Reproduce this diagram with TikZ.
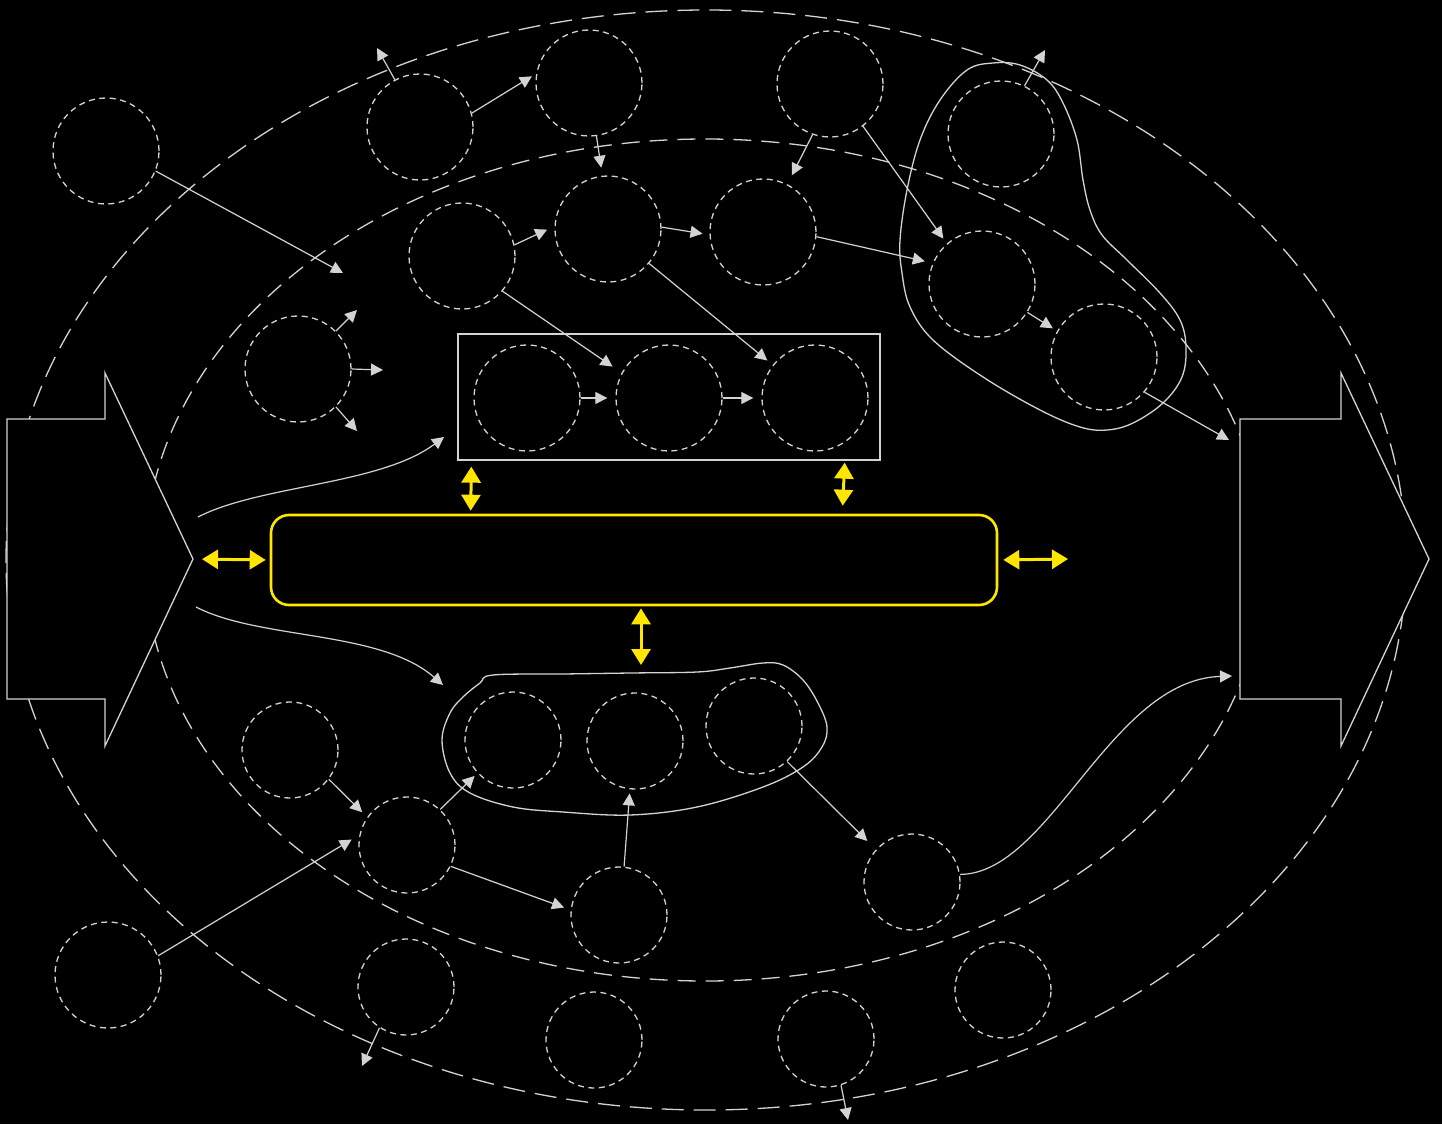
\documentclass[tikz,border=0pt]{standalone}
\usetikzlibrary{arrows.meta}
\definecolor{ink}{RGB}{211,211,211}
\definecolor{hl}{RGB}{255,230,0}
\begin{document}
\begin{tikzpicture}[x=1pt,y=-1pt,
  orbit/.style={circle,draw=ink,line width=1.3pt,dash pattern=on 6pt off 4.5pt,minimum size=106pt,inner sep=0pt},
  orbit s/.style={orbit,minimum size=96pt},
  link/.style={draw=ink,line width=1.2pt,-{Triangle[length=12pt,width=12pt]}},
  hlink/.style={draw=hl,line width=3pt,{Triangle[length=16pt,width=19pt]}-{Triangle[length=16pt,width=19pt]}},
  hull/.style={draw=ink,line width=1.3pt},
  bigarrow/.style={draw=ink,fill=black,line width=1.3pt,line join=miter},
]
% canvas
\fill[black] (0,0) rectangle (1442,1124);
\useasboundingbox (0,0) rectangle (1442,1124);

% two nested dashed rings
\draw[ink,line width=1.3pt,dash pattern=on 22pt off 10pt] (706,560) ellipse [x radius=700pt, y radius=550pt];
\draw[ink,line width=1.3pt,dash pattern=on 18pt off 10pt] (705,560) ellipse [x radius=560pt, y radius=421pt];

% big input / output arrows
\draw[bigarrow] (7,419) -- (105,419) -- (105,373) -- (193,559) -- (105,746) -- (105,699) -- (7,699) -- cycle;
\draw[bigarrow] (1240,419) -- (1341,419) -- (1341,373) -- (1429,559) -- (1341,746) -- (1341,699) -- (1240,699) -- cycle;
\coordinate (srcTip) at (193,559);
\coordinate (srcUp) at (198,517);
\coordinate (srcDown) at (196,607);

% dashed circles
\node[orbit] (c1) at (106,151) {};
\node[orbit] (c2) at (420,127) {};
\node[orbit] (c3) at (589,83) {};
\node[orbit] (c4) at (830,84) {};
\node[orbit] (c5) at (1001,134) {};
\node[orbit] (c6) at (462,256) {};
\node[orbit] (c7) at (608,229) {};
\node[orbit] (c8) at (763,232) {};
\node[orbit] (c9) at (982,284) {};
\node[orbit] (c10) at (1104,357) {};
\node[orbit] (c11) at (298,369) {};
\node[orbit] (c12) at (527,398) {};
\node[orbit] (c13) at (669,398) {};
\node[orbit] (c14) at (815,398) {};
\node[orbit s] (c15) at (290,750) {};
\node[orbit s] (c16) at (513,740) {};
\node[orbit s] (c17) at (635,741) {};
\node[orbit s] (c18) at (754,726) {};
\node[orbit s] (c19) at (407,845) {};
\node[orbit s] (c20) at (619,915) {};
\node[orbit s] (c21) at (912,882) {};
\node[orbit] (c22) at (108,975) {};
\node[orbit s] (c23) at (406,987) {};
\node[orbit s] (c24) at (594,1040) {};
\node[orbit s] (c25) at (826,1039) {};
\node[orbit s] (c26) at (1003,990) {};

% frame round the three-circle row
\node[draw=ink,line width=1.3pt,minimum width=422pt,minimum height=126pt,inner sep=0pt] (stage) at (669,397) {};

% central highlighted block
\node[draw=hl,line width=2.6pt,rounded corners=18pt,minimum width=726pt,minimum height=90pt,inner sep=0pt] (core) at (634,560) {};

% hulls
\draw[hull] plot[smooth cycle,tension=0.6] coordinates {
  (967,70) (993,63) (1020,65) (1047,80) (1063,103) (1077,140) (1083,180)
  (1090,210) (1102,235) (1127,260) (1160,293) (1180,320) (1186,347)
  (1182,377) (1163,403) (1133,423) (1107,430) (1080,427) (1040,410)
  (983,377) (933,340) (910,307) (902,273) (900,240) (907,190) (920,140) (940,100)};
\draw[hull] plot[smooth cycle,tension=0.6] coordinates {
  (493,675) (563,674) (630,673) (697,672) (730,668) (763,663) (783,665)
  (803,680) (818,703) (827,727) (822,747) (803,767) (763,787) (697,807)
  (630,815) (563,812) (513,807) (470,793) (450,773) (442,740) (450,713)
  (463,697) (480,683)};

% free ends
\coordinate (o1) at (343,273);
\coordinate (o2) at (377,48);
\coordinate (o5) at (1045,50);
\coordinate (o10) at (1229,440);
\coordinate (o11a) at (357,310);
\coordinate (o11b) at (383,370);
\coordinate (o11c) at (357,431);
\coordinate (o23) at (362,1066);
\coordinate (o25) at (848,1120);
\coordinate (toStage) at (444,437);
\coordinate (toGroup) at (443,685);
\coordinate (toSink) at (1232,676);
\coordinate (hlRight) at (1068,559);
\coordinate (hlDown) at (641,665);

% grey connectors
\draw[link] (c1.-22) -- (o1);
\draw[link] (c2.118) -- (o2);
\draw[link,shorten >=5pt] (c2.15) -- (c3.170);
\draw[link,shorten >=8pt] (c3.-82) -- (c7.96);
\draw[link,shorten >=10pt] (c4.-109) -- (c8.63);
\draw[link,shorten >=6pt] (c4.-52) -- (c9.131);
\draw[link] (c5.64) -- (o5);
\draw[link,shorten >=8pt] (c6.12) -- (c7.177);
\draw[link,shorten >=11pt] (c6.-41) -- (c13.152);
\draw[link,shorten >=7pt] (c7.2) -- (c8.183);
\draw[link,shorten >=7pt] (c7.-40) -- (c14.142);
\draw[link,shorten >=8pt] (c8.-5) -- (c9.157);
\draw[link,shorten >=5pt] (c9.-32) -- (c10.151);
\draw[link] (c10.-41) -- (o10);
\draw[link] (c11.45) -- (o11a);
\draw[link] (c11.0) -- (o11b);
\draw[link] (c11.-45) -- (o11c);
\draw[link,shorten >=8pt] (c12.east) -- (c13.west);
\draw[link,shorten >=8pt] (c13.east) -- (c14.west);
\draw[link,shorten >=7pt] (c15.-37) -- (c19.145);
\draw[link,shorten >=9pt] (c22.21) -- (c19.168);
\draw[link,shorten >=4pt] (c19.47) -- (c16.223);
\draw[link,shorten >=7pt] (c19.-26) -- (c20.174);
\draw[link,shorten >=4pt] (c20.84) -- (c17.264);
\draw[link,shorten >=12pt] (c18.-47) -- (c21.138);
\draw[link] (c23.-123) -- (o23);
\draw[link] (c25.-72) -- (o25);
\draw[link] (srcUp) .. controls (260,485) and (380,485) .. (toStage);
\draw[link] (srcDown) .. controls (260,640) and (380,630) .. (toGroup);
\draw[link] (c21.9) .. controls (1050,874) and (1110,680) .. (toSink);

% highlighted two-way links
\draw[hlink,shorten <=9pt,shorten >=4pt] (srcTip) -- (core.west);
\draw[hlink,shorten <=5pt] (core.east) -- (hlRight);
\draw[hlink] ([xshift=14pt,yshift=-6pt]stage.south west) -- ([xshift=201pt,yshift=3pt]core.north west);
\draw[hlink] ([xshift=-36pt,yshift=-2pt]stage.south east) -- ([xshift=573pt,yshift=8pt]core.north west);
\draw[hlink] ([xshift=7pt,yshift=-2pt]core.south) -- (hlDown);
\end{tikzpicture}
\end{document}
